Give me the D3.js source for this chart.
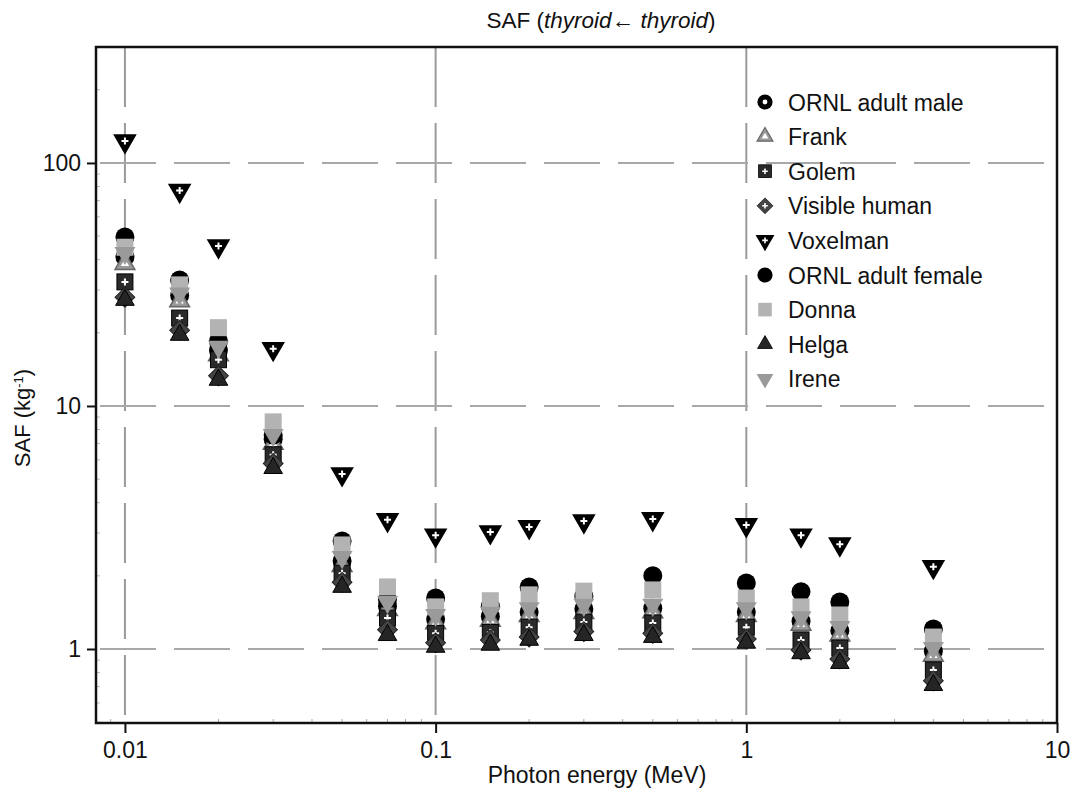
<!DOCTYPE html>
<html>
<head>
<meta charset="utf-8">
<script src="https://cdn.jsdelivr.net/npm/d3@7"></script>
<style>
  body { margin: 0; background: #fff; }
  text { font-family: "Liberation Sans", Arial, Helvetica, sans-serif; fill: #111; }
</style>
</head>
<body>
<div class="chart"></div>
<script>
// photon energies (MeV)
var energies = [0.01, 0.015, 0.02, 0.03, 0.05, 0.07, 0.1, 0.15, 0.2, 0.3, 0.5, 1, 1.5, 2, 4];

// SAF values (kg^-1)
var ornlMale     = [41, 28.5, 17, 7.3, 2.3, 1.5, 1.33, 1.36, 1.42, 1.46, 1.47, 1.42, 1.30, 1.19, 0.98];
var frank        = [38.5, 27, 16.2, 7.0, 2.2, 1.45, 1.28, 1.31, 1.37, 1.41, 1.42, 1.37, 1.26, 1.14, 0.94];
var golem        = [32.4, 23, 15.5, 6.3, 2.05, 1.34, 1.16, 1.17, 1.23, 1.29, 1.28, 1.23, 1.09, 1.01, 0.82];
var visibleHuman = [28, 20.5, 13.3, 5.8, 1.88, 1.2, 1.06, 1.09, 1.12, 1.18, 1.16, 1.1, 0.99, 0.91, 0.74];
var voxelman     = [123, 77, 45.5, 17.2, 5.25, 3.4, 2.94, 3.03, 3.18, 3.36, 3.43, 3.24, 2.94, 2.70, 2.18];
var ornlFemale   = [49.6, 33, 18.5, 7.6, 2.78, 1.6, 1.62, 1.5, 1.80, 1.65, 2.0, 1.87, 1.72, 1.56, 1.21];
var donna        = [45, 31.5, 21, 8.6, 2.68, 1.80, 1.49, 1.58, 1.67, 1.73, 1.75, 1.62, 1.49, 1.38, 1.12];
var helga        = [27.3, 19.6, 12.8, 5.55, 1.80, 1.14, 1.02, 1.04, 1.09, 1.14, 1.12, 1.06, 0.96, 0.875, 0.71];
var irene        = [42.6, 29, 17.5, 7.6, 2.39, 1.56, 1.38, 1.41, 1.47, 1.52, 1.52, 1.47, 1.35, 1.23, 1.01];

var xTicks = [0.01, 0.1, 1, 10];
var yTicks = [1, 10, 100];

var series = [
  {name: "ORNL adult male", values: ornlMale, type: "ornlMale"},
  {name: "Frank", values: frank, type: "frank"},
  {name: "Golem", values: golem, type: "golem"},
  {name: "Visible human", values: visibleHuman, type: "visible"},
  {name: "Voxelman", values: voxelman, type: "voxelman"},
  {name: "ORNL adult female", values: ornlFemale, type: "ornlFemale"},
  {name: "Donna", values: donna, type: "donna"},
  {name: "Helga", values: helga, type: "helga"},
  {name: "Irene", values: irene, type: "irene"}
];

var width = 1071, height = 789;
var margin = {top: 47, right: 14, bottom: 66, left: 96};
var w = width - margin.left - margin.right;
var h = height - margin.top - margin.bottom;

var svg = d3.select(".chart").append("svg")
    .attr("width", width)
    .attr("height", height);

var g = svg.append("g")
    .attr("transform", "translate(" + margin.left + "," + margin.top + ")");

var x = d3.scaleLog().domain([0.00807, 10]).range([0, w]);
var y = d3.scaleLog().domain([0.496, 300]).range([h, 0]);

// grid
g.selectAll(".vgrid")
    .data(xTicks.slice(0, 3))
    .enter().append("line")
    .attr("x1", d => x(d)).attr("x2", d => x(d))
    .attr("y1", 0).attr("y2", h)
    .attr("stroke", "#9a9a9a")
    .attr("stroke-width", 2)
    .attr("stroke-dasharray", "60,16");

g.selectAll(".hgrid")
    .data(yTicks)
    .enter().append("line")
    .attr("x1", 0).attr("x2", w)
    .attr("y1", d => y(d)).attr("y2", d => y(d))
    .attr("stroke", "#a8a8a8")
    .attr("stroke-width", 2)
    .attr("stroke-dasharray", "56,18")
    .attr("stroke-dashoffset", -4);

// axes
var xAxis = d3.axisBottom(x).tickValues(xTicks).tickSize(10).tickFormat(d3.format("~g"));
var yAxis = d3.axisLeft(y).tickValues(yTicks).tickSize(9).tickFormat(d3.format("~g"));

var gx = g.append("g")
    .attr("transform", "translate(0," + h + ")")
    .call(xAxis);
gx.select(".domain").remove();
gx.selectAll("line").attr("stroke", "#111").attr("stroke-width", 2);
gx.selectAll("text").attr("font-size", 23).attr("dy", "1.0em").attr("y", 12);

var gy = g.append("g").call(yAxis);
gy.select(".domain").remove();
gy.selectAll("line").attr("stroke", "#111").attr("stroke-width", 2);
gy.selectAll("text").attr("font-size", 23).attr("x", -15);

// minor ticks on the inside of the frame
var xMinor = x.ticks().filter(d => xTicks.indexOf(d) < 0);
g.selectAll(".xminor").data(xMinor).enter().append("line")
    .attr("x1", d => x(d)).attr("x2", d => x(d))
    .attr("y1", h).attr("y2", h - 4)
    .attr("stroke", "#aaa").attr("stroke-width", 1);
var yMinor = y.ticks().filter(d => yTicks.indexOf(d) < 0);
g.selectAll(".yminor").data(yMinor).enter().append("line")
    .attr("x1", 0).attr("x2", 4)
    .attr("y1", d => y(d)).attr("y2", d => y(d))
    .attr("stroke", "#bbb").attr("stroke-width", 1);

// frame
g.append("rect")
    .attr("width", w).attr("height", h)
    .attr("fill", "none")
    .attr("stroke", "#111")
    .attr("stroke-width", 2.5);

// markers
var sym = d3.symbol();
function drawMarker(sel, type) {
  var plus = false;
  if (type == "ornlMale") {
    sel.append("circle").attr("r", 9.5).attr("fill", "#000");
    sel.append("circle").attr("r", 3).attr("fill", "#fff");
  } else if (type == "frank") {
    sel.append("path").attr("d", sym.type(d3.symbolTriangle).size(170)())
      .attr("fill", "#999").attr("stroke", "#666").attr("stroke-width", 1.5);
    sel.append("path").attr("d", sym.type(d3.symbolTriangle).size(30)())
      .attr("fill", "#fff");
  } else if (type == "golem") {
    sel.append("rect").attr("x", -8).attr("y", -8).attr("width", 16).attr("height", 16)
      .attr("fill", "#2a2a2a").attr("stroke", "#000").attr("stroke-width", 1);
    plus = true;
  } else if (type == "visible") {
    sel.append("rect").attr("x", -7).attr("y", -7).attr("width", 14).attr("height", 14)
      .attr("transform", "rotate(45)")
      .attr("fill", "#444").attr("stroke", "#222").attr("stroke-width", 1);
    plus = true;
  } else if (type == "voxelman") {
    sel.append("path").attr("d", sym.type(d3.symbolTriangle).size(190)())
      .attr("transform", "rotate(180)")
      .attr("fill", "#000").attr("stroke", "#000").attr("stroke-width", 1.5);
    plus = true;
  } else if (type == "ornlFemale") {
    sel.append("circle").attr("r", 9.5).attr("fill", "#000");
  } else if (type == "donna") {
    sel.append("rect").attr("x", -8.5).attr("y", -8.5).attr("width", 17).attr("height", 17)
      .attr("fill", "#b3b3b3");
  } else if (type == "helga") {
    sel.append("path").attr("d", sym.type(d3.symbolTriangle).size(150)())
      .attr("fill", "#252525").attr("stroke", "#000").attr("stroke-width", 1);
  } else if (type == "irene") {
    sel.append("path").attr("d", sym.type(d3.symbolTriangle).size(190)())
      .attr("transform", "rotate(180)")
      .attr("fill", "#9a9a9a");
  }
  if (plus) {
    sel.append("path").attr("d", "M-3.5,0H3.5M0,-3.5V3.5")
      .attr("stroke", "#fff").attr("stroke-width", 2);
  }
}

series.forEach(function(s) {
  var pts = g.append("g").attr("class", "series")
    .selectAll("g")
    .data(s.values.map((v, i) => ({e: energies[i], v: v})))
    .enter().append("g")
    .attr("transform", d => "translate(" + x(d.e) + "," + y(d.v) + ")");
  drawMarker(pts, s.type);
});

// legend
var legend = svg.append("g").attr("transform", "translate(765,102)");
series.forEach(function(s, i) {
  var row = legend.append("g").attr("transform", "translate(0," + (i * 34.6) + ")");
  drawMarker(row.append("g").attr("transform", "scale(0.8)"), s.type);
  row.append("text")
    .attr("x", 23).attr("y", 8.5)
    .attr("font-size", 23)
    .text(s.name);
});

// title
var title = svg.append("text")
    .attr("x", 601).attr("y", 28)
    .attr("text-anchor", "middle")
    .attr("font-size", 22.5);
title.append("tspan").text("SAF (");
title.append("tspan").attr("font-style", "italic").text("thyroid");
title.append("tspan").text("\u2190  ");
title.append("tspan").attr("font-style", "italic").text("thyroid");
title.append("tspan").text(")");

// axis labels
svg.append("text")
    .attr("x", 597).attr("y", 783)
    .attr("text-anchor", "middle")
    .attr("font-size", 23)
    .text("Photon energy (MeV)");

var yl = svg.append("text")
    .attr("transform", "translate(30,418) rotate(-90)")
    .attr("text-anchor", "middle")
    .attr("font-size", 22);
yl.append("tspan").text("SAF (kg");
yl.append("tspan").attr("baseline-shift", "super").attr("font-size", 13).text("-1");
yl.append("tspan").text(")");
</script>
</body>
</html>
